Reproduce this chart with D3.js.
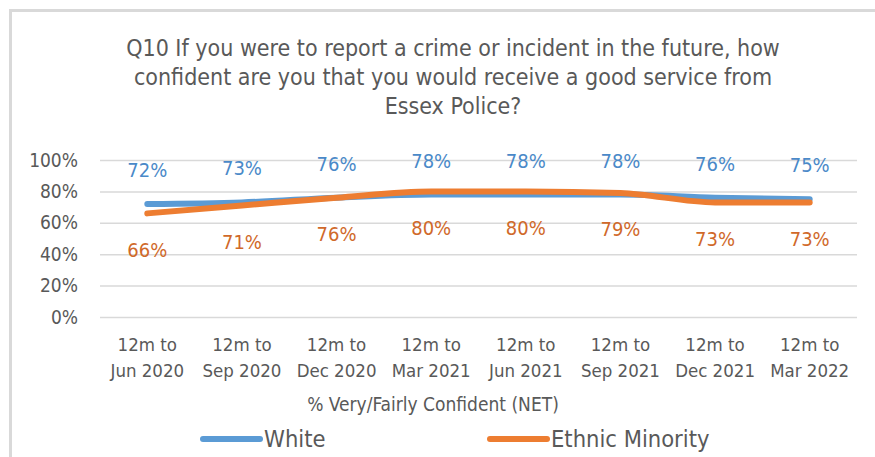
<!DOCTYPE html>
<html>
<head>
<meta charset="utf-8">
<script src="https://cdn.jsdelivr.net/npm/d3@7"></script>
<style>
  html, body { margin: 0; padding: 0; background: #fff; }
  svg { display: block; }
  text { font-family: "DejaVu Sans Condensed", "Liberation Sans Narrow", sans-serif; }
</style>
</head>
<body>
<svg id="chart" width="875" height="457"></svg>
<script>
// Survey periods (two-line category labels)
const categories = [
  ["12m to", "Jun 2020"], ["12m to", "Sep 2020"], ["12m to", "Dec 2020"], ["12m to", "Mar 2021"],
  ["12m to", "Jun 2021"], ["12m to", "Sep 2021"], ["12m to", "Dec 2021"], ["12m to", "Mar 2022"]
];
const whiteValues = [72, 73, 76, 78, 78, 78, 76, 75];
const minorityValues = [66, 71, 76, 80, 80, 79, 73, 73];
const yTicks = [0, 20, 40, 60, 80, 100];
const titleLines = [
  "Q10 If you were to report a crime or incident in the future, how",
  "confident are you that you would receive a good service from",
  "Essex Police?"
];
const axisTitle = "% Very/Fairly Confident (NET)";

const svg = d3.select("#chart");
const W = 875, H = 457;
const plot = { left: 100, right: 857, top: 160, bottom: 317 };

// chart frame
svg.append("path")
  .attr("d", `M10.5,${H} V10.5 H${W}`)
  .attr("fill", "none").attr("stroke", "#d9d9d9").attr("stroke-width", 3);

// title
svg.append("g").selectAll("text").data(titleLines).join("text")
  .attr("x", 453).attr("y", (d, i) => 56 + i * 29)
  .attr("text-anchor", "middle")
  .attr("fill", "#595959").attr("font-size", 23)
  .text(d => d);

const x = d3.scaleBand().domain(d3.range(categories.length)).range([plot.left, plot.right]);
const y = d3.scaleLinear().domain([0, 100]).range([plot.bottom, plot.top]);
const cx = i => x(i) + x.bandwidth() / 2;

// gridlines + y tick labels
const yAxis = d3.axisLeft(y).tickValues(yTicks).tickSize(plot.left - plot.right)
  .tickFormat(d => d + "%").tickPadding(22);
const gy = svg.append("g").attr("transform", `translate(${plot.left},0)`).call(yAxis);
gy.select(".domain").remove();
gy.selectAll(".tick line").attr("stroke", "#d9d9d9").attr("stroke-width", 1.5);
gy.selectAll(".tick text").attr("fill", "#595959").attr("font-size", 19)
  .attr("font-family", "'DejaVu Sans Condensed', sans-serif");

// x category labels
const gx = svg.append("g");
categories.forEach((c, i) => {
  gx.append("text").attr("x", cx(i)).attr("y", 351).attr("text-anchor", "middle")
    .attr("fill", "#595959").attr("font-size", 18.5).text(c[0]);
  gx.append("text").attr("x", cx(i)).attr("y", 377).attr("text-anchor", "middle")
    .attr("fill", "#595959").attr("font-size", 18.5).text(c[1]);
});

svg.append("text").attr("x", 433).attr("y", 411).attr("text-anchor", "middle")
  .attr("fill", "#595959").attr("font-size", 19).text(axisTitle);

const line = d3.line().x((d, i) => cx(i)).y(d => y(d)).curve(d3.curveMonotoneX);

const series = [
  { name: "White", values: whiteValues, color: "#5b9bd5", label: "#4a89c8", dy: -27 },
  { name: "Ethnic Minority", values: minorityValues, color: "#ed7d31", label: "#d0692a", dy: 43.5 }
];

series.forEach(s => {
  svg.append("path").datum(s.values).attr("d", line)
    .attr("fill", "none").attr("stroke", s.color).attr("stroke-width", 6)
    .attr("stroke-linecap", "round").attr("stroke-linejoin", "round");
});

series.forEach(s => {
  svg.append("g").selectAll("text").data(s.values).join("text")
    .attr("x", (d, i) => cx(i)).attr("y", d => y(d) + s.dy)
    .attr("text-anchor", "middle").attr("fill", s.label).attr("font-size", 20)
    .attr("font-family", "'Open Sans', sans-serif")
    .text(d => d + "%");
});

// legend
const legend = [
  { name: "White", color: "#5b9bd5", x0: 203 },
  { name: "Ethnic Minority", color: "#ed7d31", x0: 490 }
];
legend.forEach(l => {
  svg.append("line").attr("x1", l.x0).attr("x2", l.x0 + 57).attr("y1", 439).attr("y2", 439)
    .attr("stroke", l.color).attr("stroke-width", 6).attr("stroke-linecap", "round");
  svg.append("text").attr("x", l.x0 + 61).attr("y", 447).attr("fill", "#595959")
    .attr("font-size", 23.5).text(l.name);
});
</script>
</body>
</html>
